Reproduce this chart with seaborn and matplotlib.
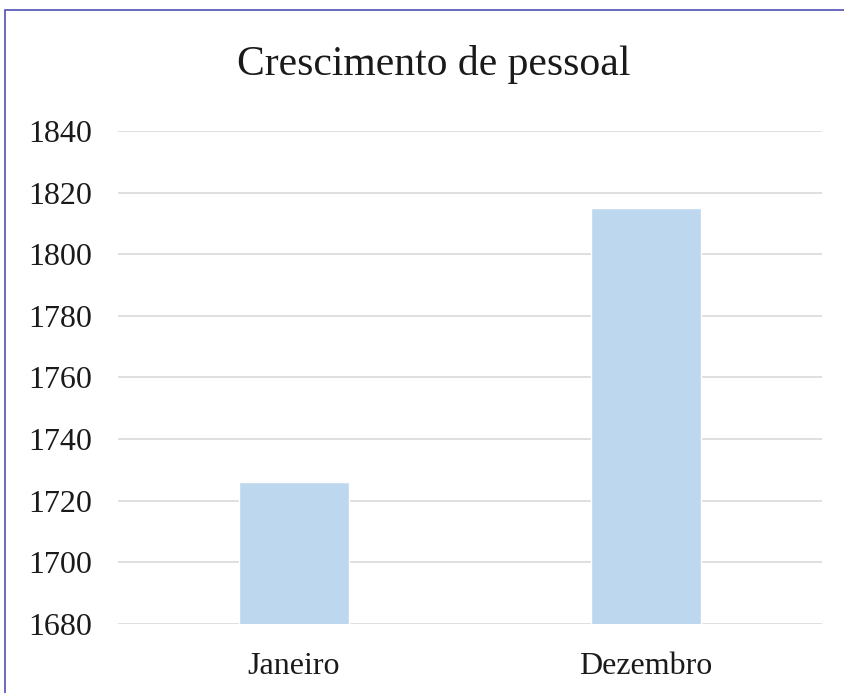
import matplotlib
matplotlib.use("Agg")
import matplotlib.pyplot as plt
from matplotlib.patches import Rectangle
import seaborn as sns
import pandas as pd

# dados do gráfico
meses = ["Janeiro", "Dezembro"]
pessoal = [1726, 1815]
ticks_y = [1680, 1700, 1720, 1740, 1760, 1780, 1800, 1820, 1840]

df = pd.DataFrame({"mes": meses, "pessoal": pessoal})

sns.set_theme(style="white")
plt.rcParams['font.family'] = ['Liberation Serif', 'DejaVu Serif']

fig = plt.figure(figsize=(8.45, 6.93), dpi=100)
ax = fig.add_axes([118 / 845, 1 - 624 / 693, 704 / 845, (624 - 131) / 693])

sns.barplot(data=df, x="mes", y="pessoal", color="#BDD7EE", saturation=1,
            width=0.31, ax=ax, zorder=3)

ax.set_ylim(1680, 1840)
ax.set_yticks(ticks_y)
ax.set_xlim(-0.5, 1.5)
ax.grid(axis='y', color='#D9D9D9', linewidth=1.2, zorder=0)
ax.set_axisbelow(True)
for s in ax.spines.values():
    s.set_visible(False)
ax.tick_params(axis='both', length=0, labelsize=23, colors='#1a1a1a')
ax.tick_params(axis='y', pad=18.5)
ax.tick_params(axis='x', pad=20)
ax.set_xlabel('')
ax.set_ylabel('')

fig.text(434 / 845, 1 - 64 / 693, 'Crescimento de pessoal', ha='center', va='center',
         fontsize=30, color='#1a1a1a')

# moldura azul
fig.add_artist(Rectangle((5 / 845, -0.1), 1.2, 1 - 10 / 693 + 0.1, transform=fig.transFigure,
                         fill=False, edgecolor='#5050B0', linewidth=1.2))

fig.savefig('out.png', dpi=100)
